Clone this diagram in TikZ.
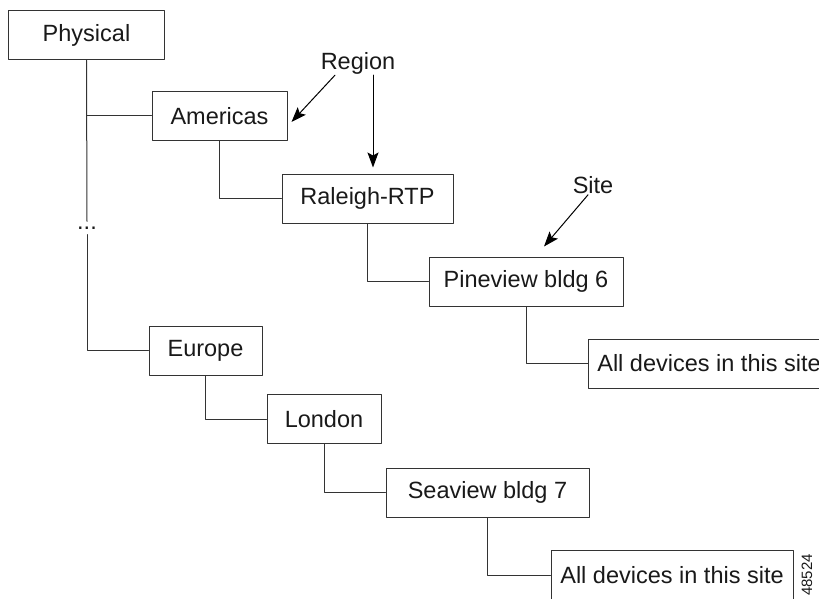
\documentclass[tikz,border=0pt]{standalone}
\usepackage{fontspec}
\setmainfont{Liberation Sans}
\usetikzlibrary{arrows.meta}
\begin{document}
\begin{tikzpicture}[x=1pt,y=-1pt,>={Stealth[length=15pt,width=11pt,inset=3pt]}, font=\fontsize{23.5}{27}\selectfont, line join=round, line cap=round,
	hop/.style={draw=black!80,line width=1pt,minimum height=49pt,inner sep=0pt,text=black!90},
	link/.style={draw=black!80,line width=1pt},
	tag/.style={inner sep=1pt,text=black!90}]
	\useasboundingbox (0,0) rectangle (819,599);
	\clip (0,0) rectangle (819,599);
	% Cay vi tri
	\node[hop,minimum width=156pt] (phys) at (86.5,35.5) {Physical};
	\node[hop,minimum width=135pt] (amer) at (219.5,116) {Americas};
	\node[hop,minimum width=171pt] (ral) at (367.5,198.5) {Raleigh-RTP};
	\node[hop,minimum width=194pt] (pine) at (526,281.5) {Pineview bldg 6};
	\node[hop,minimum width=242pt] (alla) at (709,363.5) {All devices in this site};
	\node[hop,minimum width=113pt] (eur) at (205.5,350.5) {Europe};
	\node[hop,minimum width=114pt] (lon) at (324,419) {London};
	\node[hop,minimum width=203pt] (sea) at (487.5,492.5) {Seaview bldg 7};
	\node[hop,minimum width=242pt] (allb) at (672,575) {All devices in this site};
	\node[tag,inner sep=5pt,text height=3pt,text depth=0pt] (dots) at (87,228) {...};
	% Nhan
	\node[tag] (region) at (358,63) {Region};
	\node[tag] (site) at (593,185) {Site};
	\node[tag,rotate=90,font=\fontsize{15}{18}\selectfont] (fig) at (807,575) {48524};
	% Duong noi
	\draw[link] (phys.south) |- (amer.west);
	\draw[link] (phys.south) -- (dots.north);
	\draw[link] (dots.south) |- (eur.west);
	\draw[link] (amer.south) |- (ral.west);
	\draw[link] (ral.south) |- (pine.west);
	\draw[link] (pine.south) |- (alla.west);
	\draw[link] (eur.south) |- (lon.west);
	\draw[link] (lon.south) |- (sea.west);
	\draw[link] (sea.south) |- (allb.west);
	% Mui ten
	\draw[link,draw=black,->] ([xshift=-23pt]region.south) -- ([shift={(4,6)}]amer.east);
	\draw[link,draw=black,->] ([xshift=15pt]region.south) -- ([shift={(5.5,-6)}]ral.north);
	\draw[link,draw=black,->] ([xshift=-5pt]site.south) -- ([shift={(18,-10)}]pine.north);
\end{tikzpicture}
\end{document}
